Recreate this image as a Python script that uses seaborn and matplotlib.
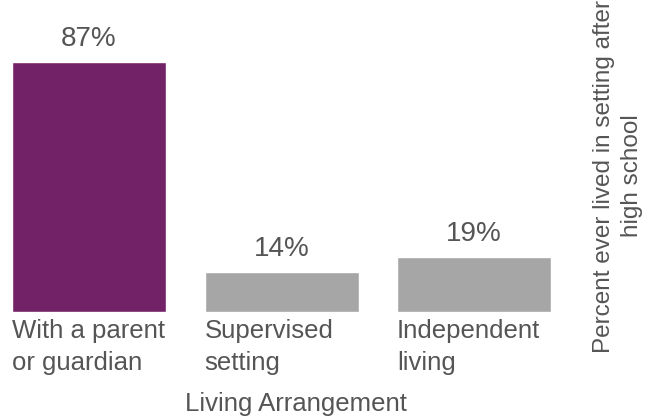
import numpy as np
import pandas as pd
import matplotlib.pyplot as plt
import seaborn as sns

# data
categories = ['With a parent\nor guardian', 'Supervised\nsetting', 'Independent\nliving']
percent = [87, 14, 19]
colors = ['#722267', '#A6A6A6', '#A6A6A6']

df = pd.DataFrame({'setting': categories, 'pct': percent})

sns.set_style('white')
plt.rcParams['font.family'] = ['Liberation Sans', 'DejaVu Sans']
text_color = '#555555'

fig = plt.figure(figsize=(6.58, 4.19), dpi=100)
ax = fig.add_axes([12 / 658, 1 - 312 / 419, 539 / 658, 287 / 419])

sns.barplot(data=df, x='setting', y='pct', hue='setting', palette=colors,
            legend=False, width=0.8, saturation=1, ax=ax)

for i, v in enumerate(percent):
    ax.text(i, v + 3.5, f'{v}%', ha='center', va='bottom', fontsize=20, color=text_color)

ax.set_ylim(0, 100)
ax.set_xlim(-0.4, 2.4)
ax.set_xticks(np.arange(len(categories)) - 0.4)
ax.set_xticklabels(categories, ha='left', fontsize=18.5, color=text_color, linespacing=1.45)
ax.tick_params(axis='x', length=0, pad=5)
ax.set_yticks([])
ax.set_ylabel('')

ax.set_xlabel('Living Arrangement', fontsize=18.5, color=text_color)
ax.xaxis.set_label_coords(0.527, -0.28)

fig.text(618 / 658, 1 - 176 / 419, 'Percent ever lived in setting after\nhigh school',
         rotation=90, ha='center', va='center', multialignment='center',
         fontsize=17.5, color=text_color, linespacing=1.35)

sns.despine(ax=ax, left=True, bottom=True)

fig.savefig('out.png', dpi=100)
plt.close()
